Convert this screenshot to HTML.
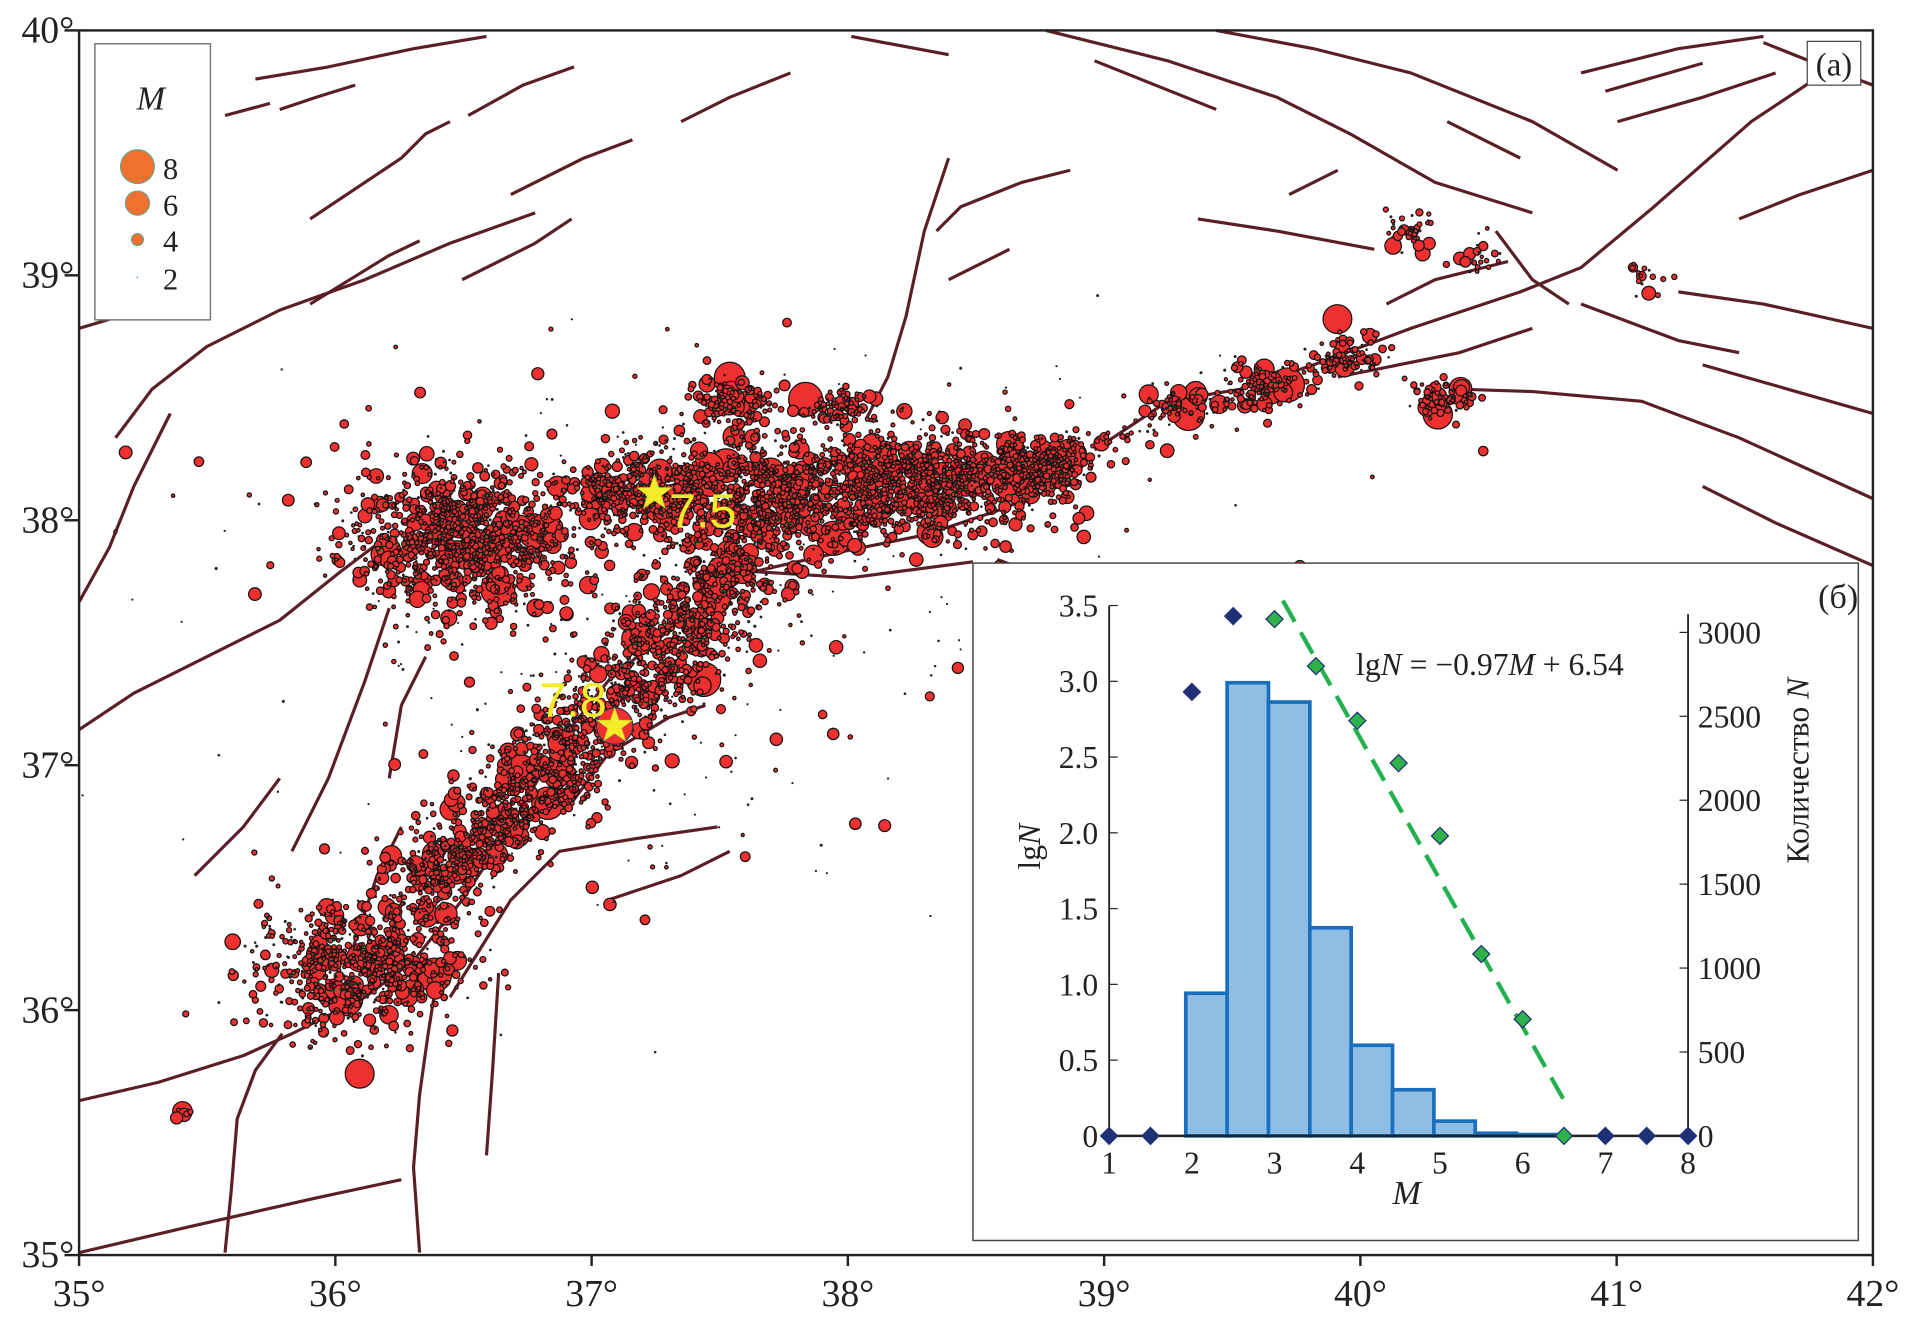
<!DOCTYPE html>
<html><head><meta charset="utf-8"><style>
html,body{margin:0;padding:0;background:#fff}
svg{display:block}
text{font-family:"Liberation Serif",serif;fill:#222}
</style></head><body>
<svg id="svg" width="1907" height="1325" viewBox="0 0 1568 1089.5" xmlns="http://www.w3.org/2000/svg">
<g id="faults"></g>
<g id="quakes"></g>
<g id="mapaxes"></g>
<g id="legend">
<rect x="78" y="36" width="95" height="227" fill="#fff" stroke="#777" stroke-width="1.2"/>
<text x="124" y="90" font-size="28" font-style="italic" text-anchor="middle">M</text>
<circle cx="113" cy="137" r="14" fill="#f07030" stroke="#5a9" stroke-width="0.8"/>
<circle cx="113" cy="167" r="10" fill="#f07030" stroke="#5a9" stroke-width="0.8"/>
<circle cx="113" cy="197" r="5" fill="#f07030" stroke="#5a9" stroke-width="0.8"/>
<circle cx="113" cy="228" r="0.7" fill="#5a9"/>
<text x="134" y="147" font-size="25">8</text>
<text x="134" y="177" font-size="25">6</text>
<text x="134" y="207" font-size="25">4</text>
<text x="134" y="238" font-size="25">2</text>
</g>
<g>
<rect x="1486" y="34" width="44" height="36" fill="#fff" stroke="#444" stroke-width="1"/>
<text x="1508" y="62" font-size="27" text-anchor="middle">(a)</text>
</g>
<g id="inset"></g>
</svg>
<script>
// ---------- map data ----------
const lonTicks=[35,36,37,38,39,40,41,42];
const latTicks=[35,36,37,38,39,40];
// clusters: [lon, lat, sdLon, sdLat, count]
const blobs=[[36.5,37.93,0.24,0.15,1000],[37.65,38.08,0.25,0.13,750],[38.3,38.16,0.26,0.11,850],[38.75,38.22,0.1,0.06,220],
[37.2,38.12,0.13,0.08,280],[37.55,38.47,0.08,0.06,130],[37.95,38.45,0.07,0.04,80],[36.08,36.18,0.2,0.13,650],
[39.28,38.47,0.07,0.04,50],[39.63,38.55,0.08,0.05,90],[39.95,38.67,0.07,0.04,70],[40.33,38.5,0.07,0.035,70],
[40.2,39.18,0.05,0.04,40],[40.45,39.08,0.04,0.04,22],[41.12,38.98,0.05,0.04,16],[35.4,35.58,0.03,0.02,6]];
// strands: [lon1,lat1,lon2,lat2,halfWidthDeg,count]
const strands=[[37.6,37.8,36.75,36.9,0.12,1000],[36.75,36.9,36.3,36.45,0.11,500],[38.8,38.25,40.1,38.7,0.035,90]];
const sparse=[[37.2,37.4,0.7,0.55,220],[37.5,38.1,1.0,0.3,220]];
const stars=[[37.245,38.11,"7.5"],[37.09,37.16,"7.8"]];
const faults=[
[[65,270],[115,255],[160,240]],[[95,360],[125,320],[170,285],[230,255],[300,230],[370,200],[440,175]],
[[255,180],[330,130],[350,110],[370,100]],[[255,250],[320,210],[345,198]],[[210,65],[270,55],[340,40],[400,30]],
[[230,90],[260,80],[292,70]],[[185,95],[222,85]],[[385,95],[430,70],[472,55]],[[420,160],[480,130],[520,115]],
[[380,230],[440,200],[470,180]],[[560,100],[600,80],[650,60]],[[700,30],[780,45]],
[[860,25],[960,50],[1050,80],[1110,110],[1180,150],[1260,175]],[[900,50],[1000,90]],
[[1000,25],[1080,40],[1160,60],[1260,100],[1330,140]],[[1190,100],[1250,130]],[[1300,60],[1380,40],[1450,30]],
[[1320,75],[1400,52]],[[1330,100],[1400,80],[1460,60]],[[1450,35],[1500,55],[1540,70]],
[[1430,180],[1480,160],[1540,140]],[[1380,240],[1450,250],[1540,270]],[[1400,300],[1470,320],[1540,340]],
[[985,180],[1050,190],[1130,205]],[[1200,320],[1260,322],[1350,330],[1430,360],[1540,410]],
[[1100,310],[1200,290],[1260,270]],[[780,130],[760,190],[745,260],[730,310],[712,345]],
[[770,190],[790,170],[840,150],[880,140]],[[780,230],[830,205]],
[[900,370],[960,330],[1020,320],[1080,300],[1160,270],[1250,240],[1300,220],[1360,170],[1440,100],[1500,60]],
[[870,400],[820,420],[760,440],[700,452],[620,470],[560,510],[500,560],[460,610],[420,680],[380,740],[340,790],[300,820],[240,850],[200,868],[130,890],[65,905]],
[[65,600],[110,570],[160,545],[230,510],[280,470],[320,440]],[[65,495],[90,450],[110,400],[140,340]],
[[65,1030],[150,1010],[260,985],[330,970]],[[345,1030],[340,960],[345,900],[352,850],[360,800]],
[[185,1030],[190,980],[195,920],[210,880],[232,850]],[[370,820],[420,740],[460,700],[520,690],[590,680]],
[[470,660],[500,620],[550,590],[580,580]],[[500,740],[560,720],[600,700]],[[400,950],[405,880],[410,800]],
[[620,470],[700,475],[800,462]],[[820,460],[900,490],[980,515]],[[1400,400],[1460,430],[1540,465]],
[[240,700],[270,640],[300,560],[320,500]],[[320,640],[330,580],[350,540]],[[290,780],[310,720],[330,680]],
[[160,720],[200,680],[230,640]],[[1140,250],[1180,230],[1240,215]],[[1230,190],[1260,230],[1290,250]],
[[1300,250],[1380,280],[1430,290]],[[1060,160],[1100,140]]];

const NS="http://www.w3.org/2000/svg";
function mk(tag,attrs,parent){const e=document.createElementNS(NS,tag);for(const k in attrs)e.setAttribute(k,attrs[k]);parent.appendChild(e);return e;}
const X0=65,X1=1540,Y0=1032,Y1=25;
function xLon(l){return X0+(l-35)*(X1-X0)/7;}
function yLat(l){return Y0-(l-35)*(Y0-Y1)/5;}

const gF=document.getElementById('faults');
faults.forEach((f,i)=>{const p=mk('polyline',{points:f.map(q=>q.join(',')).join(' '),fill:'none',stroke:'#5a1f26','stroke-width':2.6,'stroke-linejoin':'round'},gF);

});

let seed=12345;function rnd(){seed=(seed*1103515245+12345)%2147483648;return seed/2147483648;}
function gauss(){let u=rnd()||1e-9,v=rnd();return Math.sqrt(-2*Math.log(u))*Math.cos(2*Math.PI*v);}
function mag(){return Math.min(6.6,2.1+(-Math.log(rnd()||1e-9))*0.75);}
const pts=[];
blobs.forEach(b=>{for(let i=0;i<b[4];i++)pts.push([b[0]+gauss()*b[2],b[1]+gauss()*b[3],mag()]);});
strands.forEach(s=>{for(let i=0;i<s[5];i++){const t=rnd();pts.push([s[0]+(s[2]-s[0])*t+gauss()*s[4],s[1]+(s[3]-s[1])*t+gauss()*s[4]*0.8,mag()]);}});
sparse.forEach(s=>{for(let i=0;i<s[4];i++)pts.push([s[0]+gauss()*s[2],s[1]+gauss()*s[3],1.6+rnd()*1.0+(rnd()<0.2?1.8:0)]);});
pts.sort((a,b)=>b[2]-a[2]);
const gQ=document.getElementById('quakes');
pts.forEach(p=>{const cx=xLon(p[0]),cy=yLat(p[1]);if(cx<X0+2||cx>X1-2||cy<Y1+2||cy>Y0-2)return;
const r=Math.max(0.9,0.33*p[2]*p[2]-0.4);
const c=mk('circle',{cx:cx.toFixed(1),cy:cy.toFixed(1),r:r.toFixed(2),fill:r<1.3?'#222':'#ee3030',stroke:'#111','stroke-width':r<1.3?0:1},gQ);

});
mk('circle',{cx:xLon(37.09),cy:yLat(37.16),r:15,fill:'#ee3030',stroke:'#334',"stroke-width":1},gQ);
stars.forEach((s,i)=>{const cx=xLon(s[0]),cy=yLat(s[1]);let d='';for(let k=0;k<10;k++){const a=-Math.PI/2+k*Math.PI/5,r=k%2?6:15;d+=(k?'L':'M')+(cx+r*Math.cos(a)).toFixed(1)+','+(cy+r*Math.sin(a)).toFixed(1);}
const st=mk('path',{d:d+'Z',fill:'#f2ec2a',stroke:'#cc3',"stroke-width":0.6},gQ);


const t=mk('text',{x:i==0?cx+12:cx-62,y:i==0?cy+28:cy-8,'font-size':40},gQ);t.textContent=s[2];t.style.fontFamily='"Liberation Sans",sans-serif';t.style.fill='#f2ec2a';

});

const gA=document.getElementById('mapaxes');
mk('rect',{x:X0,y:Y1,width:X1-X0,height:Y0-Y1,fill:'none',stroke:'#222','stroke-width':2},gA);
lonTicks.forEach(l=>{const x=xLon(l);mk('line',{x1:x,x2:x,y1:Y0,y2:Y0+9,stroke:'#222','stroke-width':2},gA);
const t=mk('text',{x:x,y:Y0+42,'font-size':31,'text-anchor':'middle'},gA);t.textContent=l+'°';

});
latTicks.forEach(l=>{const y=yLat(l);mk('line',{x1:X0-12,x2:X0,y1:y,y2:y,stroke:'#222','stroke-width':2},gA);
const t=mk('text',{x:X0-4,y:y+10,'font-size':31,'text-anchor':'end'},gA);t.textContent=l+'°';

});

// ---------- inset data ----------
const binStarts=[2,2.5,3,3.5,4,4.5,5,5.5,6];
const binCounts=[850,2700,2585,1240,540,275,88,16,8];
const mVals=[1,1.5,2,2.5,3,3.5,4,4.5,5,5.5,6,6.5,7,7.5,8];
const lgN=[0,0,2.93,3.43,3.41,3.1,2.74,2.46,1.98,1.2,0.77,0,0,0,0];
const inFit=[0,0,0,0,1,1,1,1,1,1,1,1,0,0,0];
const fitA=6.54,fitB=-0.97,fitRange=[3.1,6.5];
const lgTicks=[0,0.5,1,1.5,2,2.5,3,3.5];
const cntTicks=[0,500,1000,1500,2000,2500,3000];
const mTicks=[1,2,3,4,5,6,7,8];

const gI=document.getElementById('inset');
mk('rect',{x:800,y:463,width:728,height:557,fill:'#fff',stroke:'#444','stroke-width':1.2},gI);
const ix=m=>912+(m-1)*68, iy=v=>934-v*124.6, ic=c=>934-c*0.138;
binStarts.forEach((b,i)=>{const x=ix(b)-5,w=34,y=ic(binCounts[i]);
const r=mk('rect',{x:x,y:y,width:w,height:934-y,fill:'#8fbde3',stroke:'#1a6fbd','stroke-width':3},gI);

});
mk('line',{x1:912,x2:1388,y1:934,y2:934,stroke:'#222','stroke-width':2},gI);
mk('line',{x1:912,x2:912,y1:934,y2:498,stroke:'#222','stroke-width':1.5},gI);
mk('line',{x1:1388,x2:1388,y1:934,y2:505,stroke:'#222','stroke-width':1.5},gI);
lgTicks.forEach(v=>{mk('line',{x1:912,x2:919,y1:iy(v),y2:iy(v),stroke:'#222'},gI);
const t=mk('text',{x:903,y:iy(v)+9,'font-size':26,'text-anchor':'end'},gI);t.textContent=v===0?'0':v.toFixed(1);

});
cntTicks.forEach(v=>{mk('line',{x1:1381,x2:1388,y1:ic(v),y2:ic(v),stroke:'#222'},gI);
const t=mk('text',{x:1396,y:ic(v)+9,'font-size':26},gI);t.textContent=v;

});
mTicks.forEach(v=>{const t=mk('text',{x:ix(v),y:965,'font-size':26,'text-anchor':'middle'},gI);t.textContent=v;

});
const fl=mk('line',{x1:ix(fitRange[0]),y1:iy(fitA+fitB*fitRange[0]),x2:ix(fitRange[1]),y2:iy(fitA+fitB*fitRange[1]),stroke:'#22b14c','stroke-width':3.5,'stroke-dasharray':'20 10'},gI);


mVals.forEach((m,i)=>{const cx=ix(m),cy=iy(lgN[i]),s=7;
const d=mk('path',{d:`M${cx},${cy-s}L${cx+s},${cy}L${cx},${cy+s}L${cx-s},${cy}Z`,fill:inFit[i]?'#2db34a':'#1f2f78',stroke:'#1f2f78','stroke-width':1},gI);

});
</script>
<script>
(function(){const g=document.getElementById('inset');const NS="http://www.w3.org/2000/svg";
function T(x,y,s,html,extra,name){const t=document.createElementNS(NS,'text');t.setAttribute('x',x);t.setAttribute('y',y);t.setAttribute('font-size',s);if(extra)t.setAttribute('transform',extra);t.innerHTML=html;


g.appendChild(t);}
T(1115,555,26,'lg<tspan font-style="italic">N</tspan> = −0.97<tspan font-style="italic">M</tspan> + 6.54','', 'fit-equation');
T(1495,500,28,'(б)','', 'panel-b-label');
T(1145,990,28,'<tspan font-style="italic">M</tspan>','', 'x-axis-title');
T(855,715,26,'lg<tspan font-style="italic">N</tspan>','rotate(-90 855 715)','y-axis-title-left');
T(1487,710,26,'Количество <tspan font-style="italic">N</tspan>','rotate(-90 1487 710)','y-axis-title-right');
})();
</script>
</body></html>
